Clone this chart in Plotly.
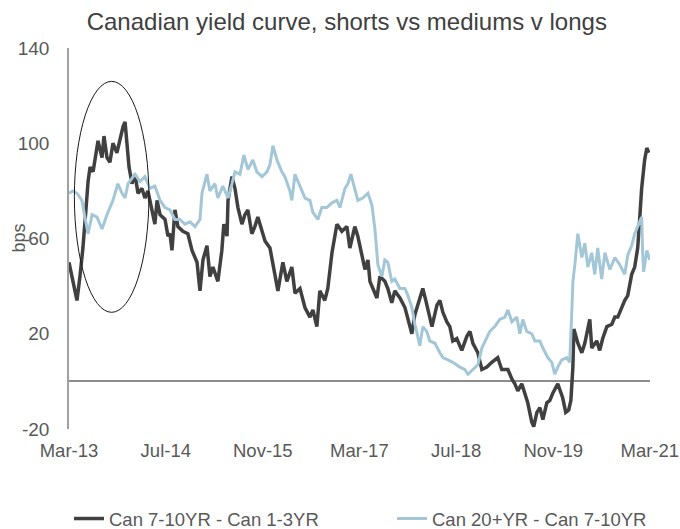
import plotly.graph_objects as go

# ---- data (bps) ----
dark_dates = [
    "2013-03-01","2013-03-21","2013-04-10","2013-04-25","2013-05-10","2013-05-26","2013-06-05","2013-06-15","2013-06-30","2013-07-25",
    "2013-08-14","2013-08-24","2013-09-08","2013-09-23","2013-10-08","2013-10-28","2013-11-12","2013-11-28","2013-12-08","2013-12-18",
    "2013-12-28","2014-01-12","2014-01-27","2014-02-11","2014-03-03","2014-03-18","2014-04-02","2014-04-22","2014-05-07","2014-05-18",
    "2014-06-02","2014-06-27","2014-07-12","2014-07-22","2014-08-01","2014-08-16","2014-08-31","2014-09-25","2014-10-20","2014-11-10",
    "2014-12-05","2014-12-20","2015-01-04","2015-01-24","2015-02-08","2015-02-23","2015-03-20","2015-04-09","2015-04-19","2015-05-05",
    "2015-05-10","2015-05-30","2015-06-14","2015-06-29","2015-07-19","2015-08-03","2015-08-18","2015-09-07","2015-09-22","2015-10-07",
    "2015-10-28","2015-11-12","2015-12-07","2016-01-01","2016-01-16","2016-02-10","2016-03-01","2016-03-26","2016-04-11","2016-05-06",
    "2016-05-31","2016-06-25","2016-07-10","2016-07-30","2016-08-14","2016-09-08","2016-09-23","2016-10-14","2016-11-08","2016-12-03",
    "2016-12-28","2017-01-12","2017-02-06","2017-02-21","2017-03-13","2017-03-29","2017-04-13","2017-04-23","2017-05-08","2017-05-28",
    "2017-06-12","2017-07-07","2017-07-22","2017-08-11","2017-08-26","2017-09-21","2017-10-16","2017-10-31","2017-11-20","2017-12-05",
    "2017-12-30","2018-01-14","2018-01-29","2018-02-13","2018-03-01","2018-03-26","2018-04-10","2018-04-25","2018-05-15","2018-05-30",
    "2018-06-14","2018-07-04","2018-07-29","2018-08-24","2018-09-08","2018-09-23","2018-10-18","2018-11-07","2018-12-02","2018-12-27",
    "2019-01-26","2019-02-15","2019-03-18","2019-04-07","2019-04-22","2019-05-07","2019-05-27","2019-06-11","2019-06-26","2019-07-16",
    "2019-07-26","2019-08-11","2019-08-26","2019-09-10","2019-09-30","2019-10-15","2019-10-30","2019-11-24","2019-12-19","2020-01-03",
    "2020-01-18","2020-01-29","2020-02-08","2020-02-13","2020-03-04","2020-03-24","2020-04-08","2020-05-03","2020-05-13","2020-06-07",
    "2020-06-22","2020-07-07","2020-07-28","2020-08-22","2020-09-06","2020-09-21","2020-10-11","2020-10-26","2020-11-10","2020-11-30",
    "2020-12-15","2020-12-30","2021-01-09","2021-01-19","2021-02-03","2021-02-14","2021-02-24",
]
dark_vals = [
    50, 42, 34, 44, 56, 73, 84, 90, 88, 101,
    94, 103, 94, 92, 100, 96, 102, 107, 109, 100,
    90, 83, 87, 79, 81, 77, 80, 72, 66, 76,
    70, 68, 61, 62, 55, 72, 65, 63, 62, 55,
    50, 38, 51, 57, 44, 48, 42, 55, 66, 61,
    76, 86, 81, 73, 66, 70, 72, 62, 65, 69,
    63, 59, 56, 44, 38, 50, 42, 48, 37, 39,
    31, 27, 30, 23, 38, 34, 39, 54, 66, 63,
    65, 56, 65, 61, 54, 47, 51, 42, 39, 35,
    44, 42, 39, 33, 38, 35, 31, 26, 20, 28,
    35, 39, 34, 29, 23, 32, 34, 29, 25, 23,
    17, 18, 13, 19, 21, 16, 12, 5, 6, 8,
    10, 5, 5, 1, -1, -4, -1, -5, -9, -17,
    -19, -13, -11, -16, -9, -8, -5, -1, -7, -13,
    -12, -8, 6, 22, 16, 12, 16, 26, 14, 17,
    13, 18, 23, 24, 27, 27, 31, 34, 36, 45,
    48, 56, 68, 81, 93, 98, 96,
]

light_dates = [
    "2013-03-01","2013-03-21","2013-04-10","2013-04-25","2013-05-05","2013-05-20","2013-06-05","2013-06-25","2013-07-20","2013-08-14",
    "2013-09-08","2013-10-08","2013-11-02","2013-11-23","2013-12-08","2013-12-23","2014-01-27","2014-02-21","2014-03-18","2014-04-12",
    "2014-05-07","2014-06-02","2014-06-27","2014-07-22","2014-08-16","2014-09-10","2014-10-05","2014-10-31","2014-11-25","2014-12-20",
    "2014-12-30","2015-01-24","2015-02-08","2015-03-05","2015-03-20","2015-04-14","2015-05-10","2015-05-30","2015-06-14","2015-07-09",
    "2015-07-29","2015-08-18","2015-09-12","2015-10-02","2015-10-28","2015-11-22","2015-12-07","2015-12-22","2016-01-11","2016-02-05",
    "2016-02-20","2016-03-16","2016-03-26","2016-04-11","2016-05-06","2016-05-31","2016-06-25","2016-07-10","2016-08-04","2016-08-24",
    "2016-09-18","2016-10-14","2016-11-08","2016-11-23","2016-12-18","2017-01-02","2017-01-17","2017-02-06","2017-02-21","2017-03-18",
    "2017-04-13","2017-05-03","2017-05-18","2017-06-02","2017-06-22","2017-07-07","2017-07-22","2017-08-11","2017-08-26","2017-09-21",
    "2017-10-16","2017-10-31","2017-11-20","2017-12-05","2017-12-20","2017-12-30","2018-01-14","2018-02-03","2018-02-18","2018-03-16",
    "2018-04-10","2018-04-25","2018-05-20","2018-06-14","2018-07-19","2018-08-13","2018-08-29","2018-09-23","2018-10-18","2018-11-07",
    "2018-12-02","2018-12-17","2019-01-11","2019-02-05","2019-03-03","2019-03-18","2019-04-07","2019-05-02","2019-05-17","2019-06-01",
    "2019-06-21","2019-07-16","2019-08-01","2019-08-26","2019-09-10","2019-10-05","2019-10-25","2019-11-09","2019-11-24","2019-12-14",
    "2020-01-08","2020-01-23","2020-02-03","2020-02-08","2020-02-18","2020-03-04","2020-03-24","2020-04-08","2020-04-23","2020-05-13",
    "2020-05-28","2020-06-12","2020-07-02","2020-07-18","2020-08-12","2020-09-06","2020-10-01","2020-10-26","2020-11-10","2020-11-30",
    "2020-12-15","2020-12-30","2021-01-19","2021-01-24","2021-01-29","2021-02-14","2021-03-01",
]
light_vals = [
    79, 80, 79, 77, 76, 69, 62, 70, 69, 64,
    70, 76, 83, 79, 77, 83, 87, 84, 86, 81,
    82, 76, 73, 72, 68, 68, 66, 67, 65, 68,
    79, 87, 80, 83, 77, 82, 77, 83, 88, 87,
    95, 89, 93, 88, 86, 88, 91, 99, 93, 88,
    86, 80, 76, 87, 82, 77, 76, 71, 68, 73,
    73, 75, 76, 73, 81, 83, 87, 80, 76, 77,
    79, 74, 64, 49, 44, 51, 50, 42, 43, 39,
    39, 36, 31, 24, 19, 15, 23, 21, 17, 16,
    12, 10, 9, 8, 6, 5, 3, 5, 7, 14,
    18, 21, 23, 26, 27, 30, 25, 27, 20, 26,
    21, 20, 17, 17, 14, 10, 8, 3, 6, 9,
    10, 8, 30, 42, 49, 62, 52, 58, 48, 54,
    45, 56, 43, 54, 47, 52, 49, 45, 53, 57,
    62, 65, 69, 54, 46, 55, 51,
]

dark_name = "Can 7-10YR - Can 1-3YR"
light_name = "Can 20+YR - Can 7-10YR"
title_text = "Canadian yield curve, shorts vs mediums v longs"
y_title = "bps"
y_ticks = [-20, 20, 60, 100, 140]
y_tick_labels = ["-20", "20", "60", "100", "140"]
x_ticks = ["2013-03-01", "2014-07-01", "2015-11-01", "2017-03-01", "2018-07-01", "2019-11-01", "2021-03-01"]
x_tick_labels = ["Mar-13", "Jul-14", "Nov-15", "Mar-17", "Jul-18", "Nov-19", "Mar-21"]
x_range = ["2013-03-01", "2021-03-02"]
y_range = [-20, 140]
# highlight ellipse (data coords)
ell_x = ["2013-03-28", "2014-04-07"]
ell_y = [29, 126]

FONT = "Liberation Sans, Arial, sans-serif"
TXT = "#595959"
W, H = 680, 529

fig = go.Figure()
fig.add_trace(go.Scatter(x=dark_dates, y=dark_vals, mode="lines", name=dark_name,
                         line=dict(color="#404040", width=3.5), legend="legend"))
fig.add_trace(go.Scatter(x=light_dates, y=light_vals, mode="lines", name=light_name,
                         line=dict(color="#a3c7d7", width=3), legend="legend2"))

fig.add_shape(type="circle", xref="x", yref="y",
              x0=ell_x[0], x1=ell_x[1], y0=ell_y[0], y1=ell_y[1],
              line=dict(color="#1a1a1a", width=1))

fig.add_annotation(text=y_title, xref="paper", yref="paper", x=-51 / 581, y=0.5,
                   xanchor="center", yanchor="middle", textangle=-90, showarrow=False,
                   font=dict(size=18, color=TXT, family=FONT))

leg_common = dict(orientation="h", xanchor="left", yref="container", y=1 - 519 / H, yanchor="middle",
                  xref="container", font=dict(size=18.5, color=TXT), bgcolor="rgba(0,0,0,0)")

fig.update_layout(
    width=W, height=H,
    margin=dict(l=69, r=30, t=48, b=100, autoexpand=False),
    paper_bgcolor="white", plot_bgcolor="white",
    font=dict(family=FONT, color=TXT),
    title=dict(text=title_text, x=0.51, xref="container", xanchor="center",
               y=1 - 22 / H, yref="container", yanchor="middle",
               font=dict(size=24, color="#404040", family=FONT)),
    showlegend=True,
    legend=dict(x=69 / W, **leg_common),
    legend2=dict(x=392 / W, **leg_common),
    xaxis=dict(type="date", range=x_range, tickmode="array", tickvals=x_ticks, ticktext=x_tick_labels,
               showgrid=False, zeroline=False, showline=False, ticks="", automargin=False,
               tickfont=dict(size=18.5, color=TXT), ticklabelstandoff=8),
    yaxis=dict(range=y_range, tickmode="array", tickvals=y_ticks, ticktext=y_tick_labels, showgrid=False,
               zeroline=True, zerolinecolor="#8c8c8c", zerolinewidth=2, automargin=False,
               showline=True, linecolor="#a0a0a0", linewidth=1.5, ticks="",
               tickfont=dict(size=19, color=TXT), ticklabelstandoff=14),
)

fig.write_html("out.html", config={"displayModeBar": False},
               post_script="document.body.style.margin='0px';document.body.style.padding='0px';")
